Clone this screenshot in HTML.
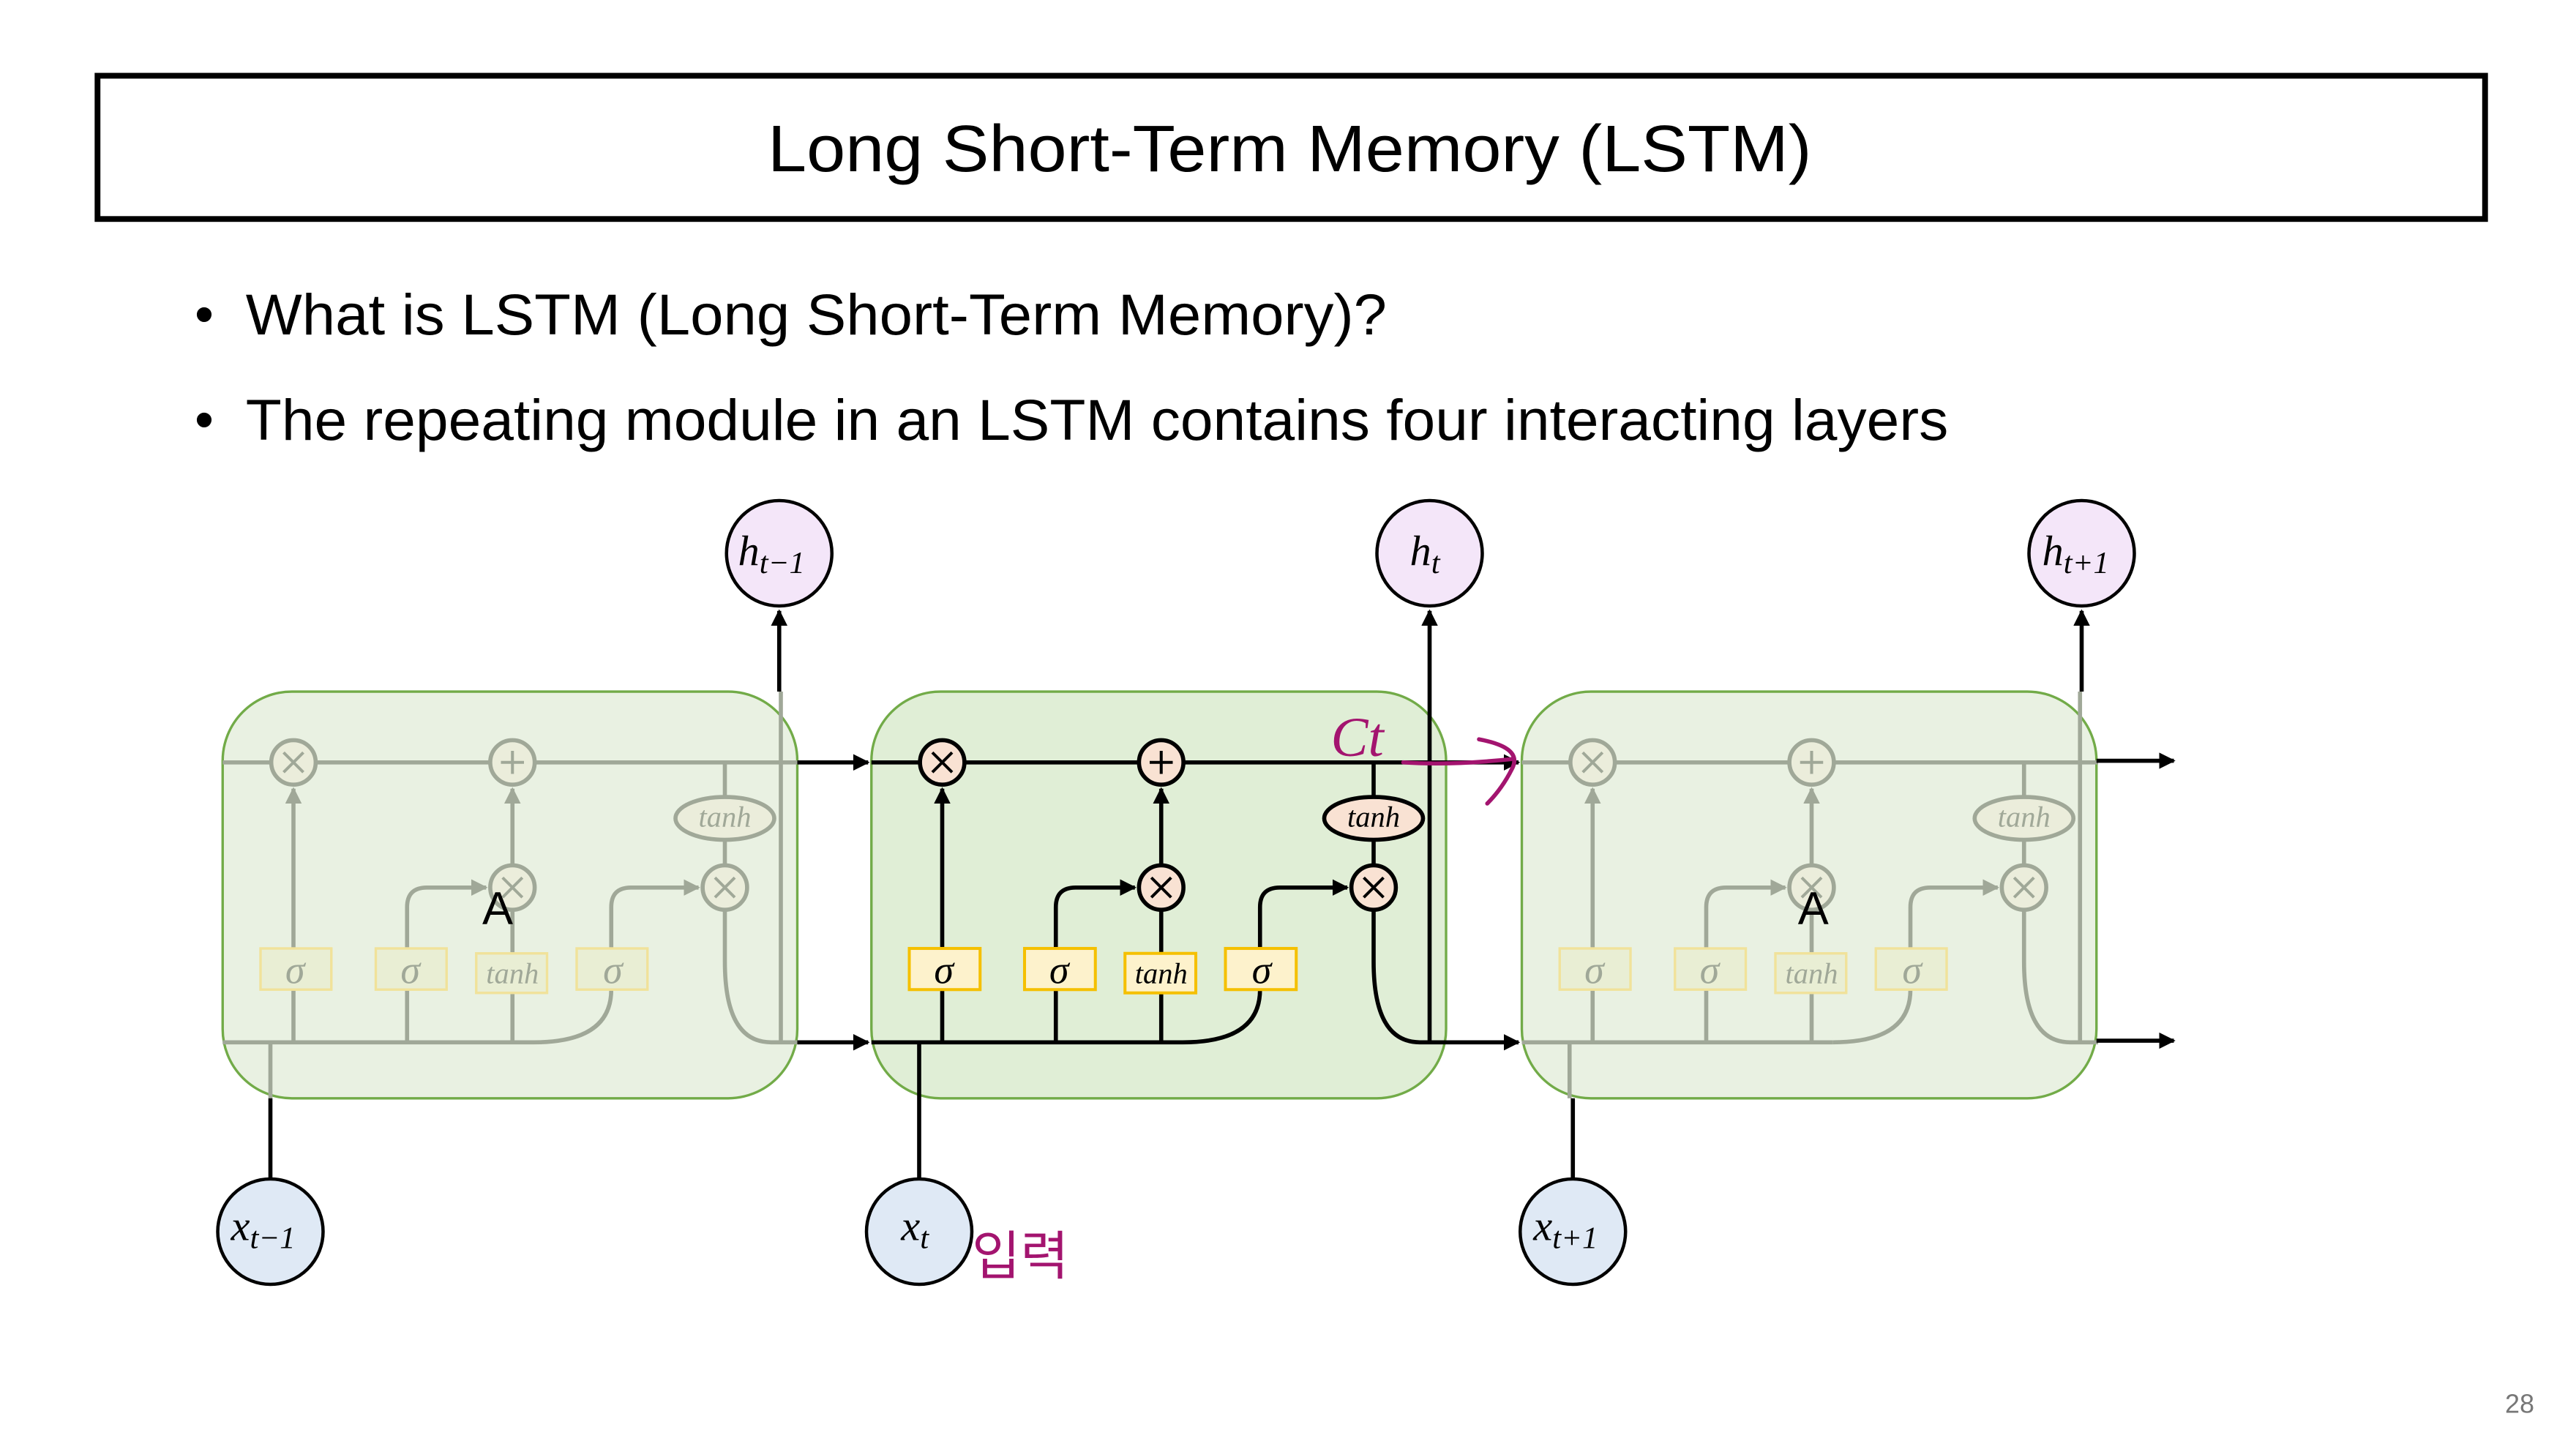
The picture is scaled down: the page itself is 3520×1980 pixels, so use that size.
<!DOCTYPE html>
<html><head><meta charset="utf-8"><style>
html,body{margin:0;padding:0;background:#fff;}
svg{display:block;}
.t{font-family:"Liberation Sans","Noto Sans CJK KR",sans-serif;}
.m{font-family:"Liberation Serif",serif;font-style:italic;}
</style></head><body>
<svg width="3520" height="1980" viewBox="0 0 1564 880" xmlns="http://www.w3.org/2000/svg">
<defs>
<marker id="ab" viewBox="0 0 10 10" refX="9" refY="5" markerWidth="4" markerHeight="4" orient="auto"><path d="M0,0 L10,5 L0,10 z" fill="#000"/></marker>
<marker id="ag" viewBox="0 0 10 10" refX="9" refY="5" markerWidth="4" markerHeight="4" orient="auto"><path d="M0,0 L10,5 L0,10 z" fill="#a0a898"/></marker>
</defs>
<rect x="0" y="0" width="1564" height="880" fill="#fff"/>
<rect x="59" y="46" width="1450" height="87" fill="none" stroke="#000" stroke-width="3.5"/>
<text class="t" x="466" y="104" font-size="40" textLength="634" lengthAdjust="spacingAndGlyphs">Long Short-Term Memory (LSTM)</text>
<text class="t" x="118" y="202" font-size="33">•</text>
<text class="t" x="149" y="203" font-size="35" textLength="693" lengthAdjust="spacingAndGlyphs">What is LSTM (Long Short-Term Memory)?</text>
<text class="t" x="118" y="266" font-size="33">•</text>
<text class="t" x="149" y="267" font-size="35" textLength="1034" lengthAdjust="spacingAndGlyphs">The repeating module in an LSTM contains four interacting layers</text>

<!-- LEFT -->
<g transform="translate(-394,-1)">
<rect x="529" y="421" width="349" height="247" rx="42" fill="#e9f1e2" stroke="#72ab48" stroke-width="1.5"/>
<g stroke="#a0a898" stroke-width="2.5" fill="none">
<path d="M529,464 H879"/>
<path d="M529,634 H718"/>
<path d="M572,634 V602 M572,577 V480" marker-end="url(#ag)"/>
<path d="M641,634 V602 M641,577 V552 Q641,540 653,540 H689" marker-end="url(#ag)"/>
<path d="M705,634 V604 M705,580 V554 M705,526 V480" marker-end="url(#ag)"/>
<path d="M718,634 Q765,634 765,602 M765,577 V552 Q765,540 777,540 H818" marker-end="url(#ag)"/>
<path d="M834,526 V512 M834,484 V464 M834,554 V585 Q834,634 862,634 H879"/>
<path d="M558,634 V668"/>
<path d="M868,634 V421"/>
</g>
<g stroke="#a0a898" stroke-width="2.5" fill="#ebeddb">
<circle cx="572" cy="464" r="13.5"/><circle cx="705" cy="464" r="13.5"/><circle cx="705" cy="540" r="13.5"/><circle cx="834" cy="540" r="13.5"/>
<ellipse cx="834" cy="498" rx="30" ry="13"/>
</g>
<g stroke="#a0a898" stroke-width="1.8" fill="none">
<path d="M566,458 l12,12 M578,458 l-12,12 M699,534 l12,12 M711,534 l-12,12 M828,534 l12,12 M840,534 l-12,12 M705,457 v14 M698,464 h14"/>
</g>
<g stroke="#f1e29a" stroke-width="1.5" fill="#e9eed4">
<rect x="552" y="577" width="43" height="25"/><rect x="622" y="577" width="43" height="25"/><rect x="683" y="580" width="43" height="24"/><rect x="744" y="577" width="43" height="25"/>
</g>
<g class="m" fill="#a0a898" text-anchor="middle">
<text x="573" y="598" font-size="24">σ</text><text x="643" y="598" font-size="24">σ</text><text x="766" y="598" font-size="24">σ</text>
<text x="705" y="598" font-size="18">tanh</text><text x="834" y="503" font-size="18">tanh</text>
</g>
<text class="t" x="696" y="562" font-size="28" text-anchor="middle">A</text>
</g>

<!-- RIGHT -->
<g transform="translate(395,-1)">
<rect x="529" y="421" width="349" height="247" rx="42" fill="#e9f1e2" stroke="#72ab48" stroke-width="1.5"/>
<g stroke="#a0a898" stroke-width="2.5" fill="none">
<path d="M529,464 H879"/>
<path d="M529,634 H718"/>
<path d="M572,634 V602 M572,577 V480" marker-end="url(#ag)"/>
<path d="M641,634 V602 M641,577 V552 Q641,540 653,540 H689" marker-end="url(#ag)"/>
<path d="M705,634 V604 M705,580 V554 M705,526 V480" marker-end="url(#ag)"/>
<path d="M718,634 Q765,634 765,602 M765,577 V552 Q765,540 777,540 H818" marker-end="url(#ag)"/>
<path d="M834,526 V512 M834,484 V464 M834,554 V585 Q834,634 862,634 H879"/>
<path d="M558,634 V668"/>
<path d="M868,634 V421"/>
</g>
<g stroke="#a0a898" stroke-width="2.5" fill="#ebeddb">
<circle cx="572" cy="464" r="13.5"/><circle cx="705" cy="464" r="13.5"/><circle cx="705" cy="540" r="13.5"/><circle cx="834" cy="540" r="13.5"/>
<ellipse cx="834" cy="498" rx="30" ry="13"/>
</g>
<g stroke="#a0a898" stroke-width="1.8" fill="none">
<path d="M566,458 l12,12 M578,458 l-12,12 M699,534 l12,12 M711,534 l-12,12 M828,534 l12,12 M840,534 l-12,12 M705,457 v14 M698,464 h14"/>
</g>
<g stroke="#f1e29a" stroke-width="1.5" fill="#e9eed4">
<rect x="552" y="577" width="43" height="25"/><rect x="622" y="577" width="43" height="25"/><rect x="683" y="580" width="43" height="24"/><rect x="744" y="577" width="43" height="25"/>
</g>
<g class="m" fill="#a0a898" text-anchor="middle">
<text x="573" y="598" font-size="24">σ</text><text x="643" y="598" font-size="24">σ</text><text x="766" y="598" font-size="24">σ</text>
<text x="705" y="598" font-size="18">tanh</text><text x="834" y="503" font-size="18">tanh</text>
</g>
<text class="t" x="706" y="562" font-size="28" text-anchor="middle">A</text>
</g>

<!-- MIDDLE -->
<g transform="translate(0,-1)">
<rect x="529" y="421" width="349" height="247" rx="42" fill="#e0eed6" stroke="#72ab48" stroke-width="1.5"/>
<g stroke="#000" stroke-width="2.5" fill="none">
<path d="M529,464 H879"/>
<path d="M529,634 H718"/>
<path d="M572,634 V602 M572,577 V480" marker-end="url(#ab)"/>
<path d="M641,634 V602 M641,577 V552 Q641,540 653,540 H689" marker-end="url(#ab)"/>
<path d="M705,634 V604 M705,580 V554 M705,526 V480" marker-end="url(#ab)"/>
<path d="M718,634 Q765,634 765,602 M765,577 V552 Q765,540 777,540 H818" marker-end="url(#ab)"/>
<path d="M834,526 V512 M834,484 V464 M834,554 V585 Q834,634 862,634"/>
<path d="M558,634 V718"/>
<path d="M868,634 V372" marker-end="url(#ab)"/>
<path d="M484,464 H527" marker-end="url(#ab)"/>
<path d="M484,634 H527" marker-end="url(#ab)"/>
<path d="M862,634 H922" marker-end="url(#ab)"/>
<path d="M879,464 H922" marker-end="url(#ab)"/>
<path d="M1273,463 H1320" marker-end="url(#ab)"/>
<path d="M1273,633 H1320" marker-end="url(#ab)"/>
<path d="M473,421 V372" marker-end="url(#ab)"/>
<path d="M1264,421 V372" marker-end="url(#ab)"/>
<path d="M164,668 V718"/>
<path d="M955,668 V718"/>
</g>
<g stroke="#000" stroke-width="2.5" fill="#f9e2d3">
<circle cx="572" cy="464" r="13.5"/><circle cx="705" cy="464" r="13.5"/><circle cx="705" cy="540" r="13.5"/><circle cx="834" cy="540" r="13.5"/>
<ellipse cx="834" cy="498" rx="30" ry="13"/>
</g>
<g stroke="#000" stroke-width="1.8" fill="none">
<path d="M566,458 l12,12 M578,458 l-12,12 M699,534 l12,12 M711,534 l-12,12 M828,534 l12,12 M840,534 l-12,12 M705,457 v14 M698,464 h14"/>
</g>
<g stroke="#f5c000" stroke-width="1.8" fill="#fdf2cc">
<rect x="552" y="577" width="43" height="25"/><rect x="622" y="577" width="43" height="25"/><rect x="683" y="580" width="43" height="24"/><rect x="744" y="577" width="43" height="25"/>
</g>
<g class="m" fill="#000" text-anchor="middle">
<text x="573" y="598" font-size="24">σ</text><text x="643" y="598" font-size="24">σ</text><text x="766" y="598" font-size="24">σ</text>
<text x="705" y="598" font-size="18">tanh</text><text x="834" y="503" font-size="18">tanh</text>
</g>

<g stroke="#000" stroke-width="2" fill="#f4e6f9">
<circle cx="473" cy="337" r="32"/><circle cx="868" cy="337" r="32"/><circle cx="1264" cy="337" r="32"/>
</g>
<g stroke="#000" stroke-width="2" fill="#dfe9f5">
<circle cx="164" cy="749" r="32"/><circle cx="558" cy="749" r="32"/><circle cx="955" cy="749" r="32"/>
</g>
<g class="m" fill="#000" font-size="26">
<text x="448" y="344">h<tspan font-size="19" dy="5">t−1</tspan></text>
<text x="856" y="344">h<tspan font-size="19" dy="5">t</tspan></text>
<text x="1240" y="344">h<tspan font-size="19" dy="5">t+1</tspan></text>
<text x="140" y="754">x<tspan font-size="19" dy="5">t−1</tspan></text>
<text x="547" y="754">x<tspan font-size="19" dy="5">t</tspan></text>
<text x="931" y="754">x<tspan font-size="19" dy="5">t+1</tspan></text>
</g>

<g stroke="#a3146f" stroke-width="2.5" fill="none" stroke-linecap="round">
<path d="M852,464 Q880,466 918,462"/>
<path d="M898,450 Q925,455 918,468 Q912,480 903,489"/>
</g>
<text x="808" y="460" font-family="Liberation Serif,serif" font-style="italic" font-size="34" fill="#a3146f">Ct</text>
<text x="590" y="775" class="t" font-size="32" fill="#a3146f">입력</text>
</g>

<text class="t" x="1530" y="858" font-size="16" fill="#777" text-anchor="middle">28</text>
</svg>
</body></html>
